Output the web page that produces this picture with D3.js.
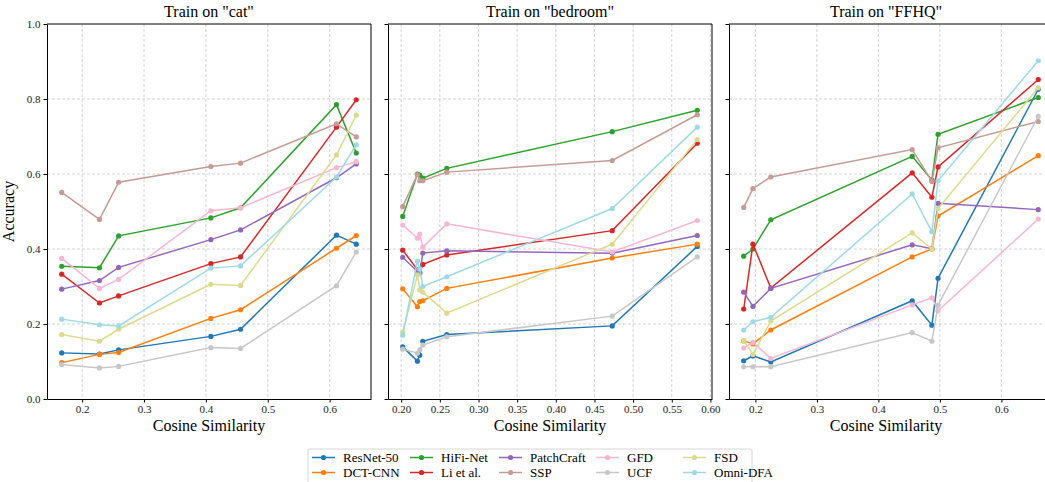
<!DOCTYPE html>
<html>
<head>
<meta charset="utf-8">
<script src="https://cdn.jsdelivr.net/npm/d3@7"></script>
<style>
  body { margin: 0; background: #fff; }
  svg { display: block; font-family: "Liberation Serif", "DejaVu Serif", serif; }
  .grid line { stroke: #c8c8c8; stroke-dasharray: 3,2; stroke-width: 0.8; }
  .axis path, .axis line { stroke: #000; }
</style>
</head>
<body>
<div id="chart"></div>
<script>
// Method names and colours (tab10 / tab20 light)
var methods = ["ResNet-50", "DCT-CNN", "HiFi-Net", "Li et al.", "PatchCraft", "SSP", "GFD", "UCF", "FSD", "Omni-DFA"];
var colors = ["#1f77b4", "#ff7f0e", "#2ca02c", "#d62728", "#9467bd", "#c49c94", "#f7b6d2", "#c7c7c7", "#dbdb8d", "#9edae5"];

// Panel titles
var titles = ['Train on "cat"', 'Train on "bedroom"', 'Train on "FFHQ"'];

// Cosine similarity x values for each panel
var catX = [0.167, 0.228, 0.259, 0.408, 0.456, 0.611, 0.643];
var bedroomX = [0.202, 0.221, 0.224, 0.228, 0.259, 0.473, 0.583];
var ffhqX = [0.181, 0.196, 0.225, 0.455, 0.487, 0.497, 0.660];

// Accuracy values, one row per method (same order as methods)
var catAcc = [
  [0.123, 0.120, 0.131, 0.167, 0.186, 0.437, 0.413],
  [0.097, 0.119, 0.124, 0.215, 0.238, 0.402, 0.436],
  [0.354, 0.350, 0.435, 0.483, 0.510, 0.785, 0.656],
  [0.333, 0.256, 0.275, 0.361, 0.379, 0.725, 0.798],
  [0.293, 0.316, 0.351, 0.425, 0.451, 0.590, 0.627],
  [0.551, 0.479, 0.578, 0.620, 0.629, 0.734, 0.699],
  [0.375, 0.295, 0.319, 0.502, 0.510, 0.617, 0.633],
  [0.092, 0.083, 0.087, 0.137, 0.135, 0.302, 0.392],
  [0.172, 0.154, 0.186, 0.306, 0.303, 0.651, 0.757],
  [0.213, 0.198, 0.195, 0.349, 0.355, 0.592, 0.678]
];

var bedroomAcc = [
  [0.139, 0.101, 0.117, 0.154, 0.172, 0.195, 0.407],
  [0.294, 0.246, 0.260, 0.262, 0.295, 0.376, 0.413],
  [0.487, 0.600, 0.597, 0.589, 0.615, 0.713, 0.770],
  [0.397, 0.345, 0.336, 0.359, 0.384, 0.449, 0.682],
  [0.378, 0.340, 0.336, 0.389, 0.395, 0.389, 0.436],
  [0.513, 0.598, 0.582, 0.582, 0.605, 0.636, 0.758],
  [0.464, 0.429, 0.440, 0.405, 0.467, 0.392, 0.476],
  [0.133, 0.122, 0.131, 0.144, 0.166, 0.221, 0.379],
  [0.178, 0.331, 0.291, 0.285, 0.229, 0.413, 0.692],
  [0.170, 0.368, 0.347, 0.300, 0.326, 0.508, 0.725]
];

var ffhqAcc = [
  [0.102, 0.115, 0.099, 0.262, 0.197, 0.322, 0.826],
  [0.155, 0.147, 0.184, 0.379, 0.400, 0.488, 0.649],
  [0.381, 0.400, 0.478, 0.647, 0.584, 0.706, 0.804],
  [0.240, 0.413, 0.296, 0.603, 0.538, 0.619, 0.852],
  [0.285, 0.247, 0.295, 0.411, 0.401, 0.522, 0.505],
  [0.511, 0.561, 0.592, 0.665, 0.580, 0.670, 0.740],
  [0.136, 0.151, 0.108, 0.251, 0.270, 0.235, 0.480],
  [0.086, 0.086, 0.086, 0.177, 0.154, 0.250, 0.754],
  [0.155, 0.119, 0.208, 0.443, 0.400, 0.508, 0.830],
  [0.184, 0.206, 0.218, 0.547, 0.446, 0.582, 0.902]
];

// tick values
var yTicks = [0.0, 0.2, 0.4, 0.6, 0.8, 1.0];
var catTicks = [0.2, 0.3, 0.4, 0.5, 0.6];
var bedroomTicks = [0.20, 0.25, 0.30, 0.35, 0.40, 0.45, 0.50, 0.55, 0.60];
var ffhqTicks = [0.2, 0.3, 0.4, 0.5, 0.6];

var svgWidth = 1045, svgHeight = 482;
var panelW = 324, panelH = 375, marginTop = 24;
var panelLeft = [47, 388, 729];
var serif = '"Liberation Serif", "DejaVu Serif", serif';

var svg = d3.select("#chart").append("svg")
  .attr("width", svgWidth)
  .attr("height", svgHeight);

var panels = [
  { xs: catX, acc: catAcc, ticks: catTicks, fmt: ".1f" },
  { xs: bedroomX, acc: bedroomAcc, ticks: bedroomTicks, fmt: ".2f" },
  { xs: ffhqX, acc: ffhqAcc, ticks: ffhqTicks, fmt: ".1f" }
];

var yScale = d3.scaleLinear().domain([0, 1]).range([panelH, 0]);

// restyle a d3 axis group like matplotlib
function styleAxis(axisG) {
  axisG.attr("font-family", serif).attr("font-size", 11);
  axisG.selectAll("text").style("font-family", serif).attr("fill", "#222");
  return axisG;
}

panels.forEach(function(p, i) {
  var g = svg.append("g")
    .attr("transform", `translate(${panelLeft[i]}, ${marginTop})`);

  // matplotlib-like 5% margins
  var ext = d3.extent(p.xs);
  var pad = (ext[1] - ext[0]) * 0.05;
  var xScale = d3.scaleLinear().domain([ext[0] - pad, ext[1] + pad]).range([0, panelW]);

  // grid
  g.append("g").attr("class", "grid")
    .selectAll("line").data(p.ticks).enter().append("line")
    .attr("x1", d => xScale(d)).attr("x2", d => xScale(d))
    .attr("y1", 0).attr("y2", panelH);
  g.append("g").attr("class", "grid")
    .selectAll("line").data(yTicks.slice(1, 5)).enter().append("line")
    .attr("x1", 0).attr("x2", panelW)
    .attr("y1", d => yScale(d)).attr("y2", d => yScale(d));

  // axes
  var bottomAxis = d3.axisBottom(xScale).tickValues(p.ticks)
    .tickFormat(d3.format(p.fmt)).tickSizeInner(3.5).tickSizeOuter(0).tickPadding(3);
  var leftAxis = d3.axisLeft(yScale).tickValues(yTicks)
    .tickFormat(i === 0 ? d3.format(".1f") : "").tickSizeInner(3.5).tickSizeOuter(0).tickPadding(3);

  styleAxis(g.append("g").attr("class", "axis")
    .attr("transform", `translate(0, ${panelH})`)
    .call(bottomAxis));
  styleAxis(g.append("g").attr("class", "axis").call(leftAxis));

  // top and right spines
  g.append("line").attr("x1", 0).attr("x2", panelW).attr("y1", 0).attr("y2", 0)
    .attr("stroke", "#000");
  g.append("line").attr("x1", panelW).attr("x2", panelW).attr("y1", 0).attr("y2", panelH)
    .attr("stroke", "#000");

  // series
  var line = d3.line()
    .x((d, j) => xScale(p.xs[j]))
    .y(d => yScale(d));

  p.acc.forEach(function(vals, m) {
    g.append("path")
      .datum(vals)
      .attr("fill", "none")
      .attr("stroke", colors[m])
      .attr("stroke-width", 1.5)
      .attr("d", line);
    g.selectAll(null).data(vals).enter().append("circle")
      .attr("cx", (d, j) => xScale(p.xs[j]))
      .attr("cy", d => yScale(d))
      .attr("r", 2.6)
      .attr("fill", colors[m]);
  });

  // title
  g.append("text")
    .attr("x", panelW / 2 - (i === 2 ? 5 : 0))
    .attr("y", -7)
    .attr("text-anchor", "middle")
    .style("font-size", "16px")
    .text(titles[i]);

  // x label
  g.append("text")
    .attr("x", panelW / 2 - (i === 2 ? 5 : 0))
    .attr("y", panelH + 32)
    .attr("text-anchor", "middle")
    .style("font-size", "16px")
    .text("Cosine Similarity");
});

// y label
svg.append("text")
  .attr("transform", `translate(14, ${marginTop + panelH / 2}) rotate(-90)`)
  .attr("text-anchor", "middle")
  .style("font-size", "16px")
  .text("Accuracy");

// legend
var legend = svg.append("g").attr("transform", "translate(308, 449)");
legend.append("rect")
  .attr("x", 0).attr("y", 0).attr("width", 444).attr("height", 40)
  .attr("rx", 2)
  .attr("fill", "#fff").attr("stroke", "#ccc").attr("stroke-width", 0.8);

var colX = [4, 102, 191, 288, 375];
methods.forEach(function(name, m) {
  var col = Math.floor(m / 2), row = m % 2;
  var item = legend.append("g")
    .attr("transform", `translate(${colX[col]}, ${8.5 + row * 15})`);
  item.append("line").attr("x1", 0).attr("x2", 23).attr("y1", 0).attr("y2", 0)
    .attr("stroke", colors[m]).attr("stroke-width", 1.5);
  item.append("circle").attr("cx", 11.5).attr("cy", 0).attr("r", 2.6).attr("fill", colors[m]);
  item.append("text").attr("x", 31).attr("y", 4.5)
    .style("font-size", "13px")
    .text(name);
});
</script>
</body>
</html>
